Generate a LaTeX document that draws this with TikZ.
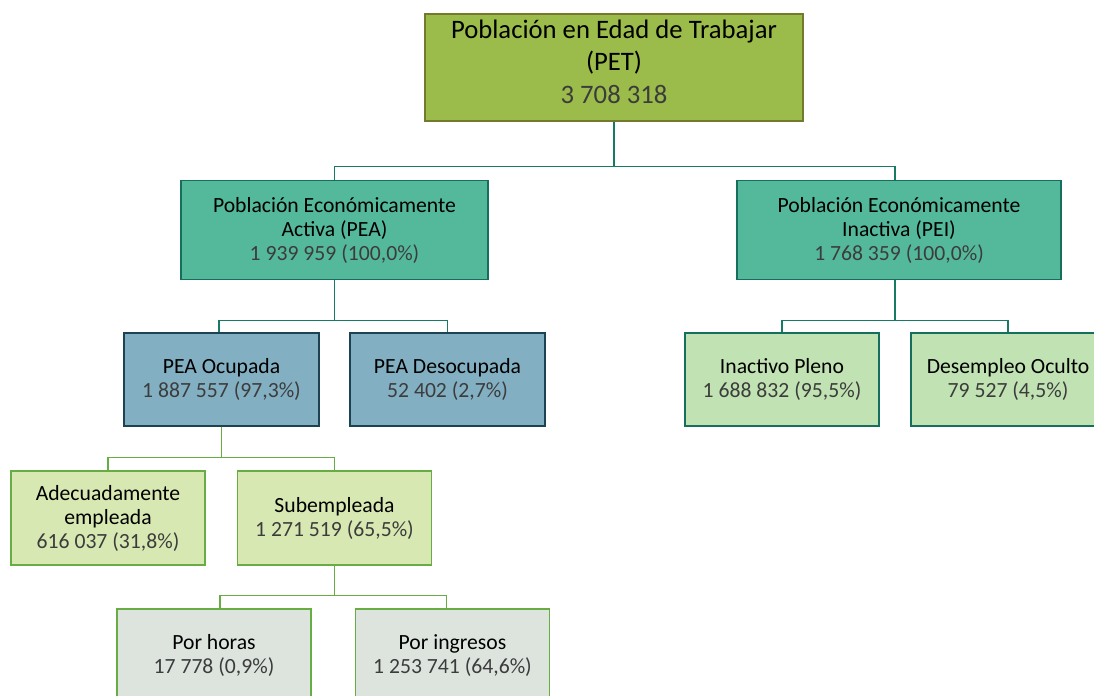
\documentclass[tikz,border=0pt]{standalone}
\usepackage{fontspec}
\setmainfont{Carlito}
\tikzset{
  box/.style={
    draw,
    line width=1.1pt,
    align=center,
    inner sep=0pt,
    text=black,
    font=\fontsize{16.25}{18}\selectfont
  },
  box-pet/.style={box, fill=petgreen, draw=petborder,
    minimum width=283.5pt, minimum height=80.25pt,
    text depth=9pt,
    font=\fontsize{20}{24.5}\selectfont},
  box-pea/.style={box, fill=peateal, draw=peaborder,
    minimum height=74.25pt},
  box-blue/.style={box, fill=ocublue, draw=ocuborder,
    minimum width=146.25pt, minimum height=69.75pt},
  box-inact/.style={box, fill=inactgreen, draw=peaborder,
    minimum width=145.5pt, minimum height=69.75pt},
  box-light/.style={box, fill=lightgreen, draw=linegreen,
    minimum width=145.5pt, minimum height=70.5pt},
  box-grey/.style={box, fill=lightgrey, draw=linegreen,
    minimum width=145.5pt, minimum height=69.75pt},
  link-teal/.style={draw=linkteal, line width=1.1pt},
  link-green/.style={draw=linegreen, line width=1.1pt}
}
\definecolor{petgreen}{RGB}{155,187,74}
\definecolor{petborder}{RGB}{115,122,45}
\definecolor{peateal}{RGB}{84,185,155}
\definecolor{peaborder}{RGB}{22,110,92}
\definecolor{ocublue}{RGB}{130,176,194}
\definecolor{ocuborder}{RGB}{28,66,84}
\definecolor{inactgreen}{RGB}{193,226,178}
\definecolor{lightgreen}{RGB}{216,232,178}
\definecolor{lightgrey}{RGB}{221,228,222}
\definecolor{linegreen}{RGB}{104,172,68}
\definecolor{linkteal}{RGB}{22,122,100}
\definecolor{numgray}{RGB}{60,60,60}
\newcommand{\cifra}[1]{{\color{numgray}#1}}

\begin{document}
\begin{tikzpicture}[x=0.75pt, y=-0.75pt]
  \useasboundingbox (0,0) rectangle (1094,695);
  % top
  \node[box-pet] (pet) at (614,67.5) {Población en Edad de Trabajar\\(PET)\\\cifra{3 708 318}};
  % active / inactive
  \node[box-pea, minimum width=230.25pt] (pea) at (334.5,230)
    {Población Económicamente\\Activa (PEA)\\\cifra{1 939 959 (100,0\%)}};
  \node[box-pea, minimum width=243pt] (pei) at (899,230)
    {Población Económicamente\\Inactiva (PEI)\\\cifra{1 768 359 (100,0\%)}};
  % second level
  \node[box-blue] (ocupada) at (221.5,379.5) {PEA Ocupada\\\cifra{1 887 557 (97,3\%)}};
  \node[box-blue] (desocupada) at (447.5,379.5) {PEA Desocupada\\\cifra{52 402 (2,7\%)}};
  \node[box-inact] (inactivo) at (782,379.5) {Inactivo Pleno\\\cifra{1 688 832 (95,5\%)}};
  \node[box-inact] (oculto) at (1008,379.5) {Desempleo Oculto\\\cifra{79 527 (4,5\%)}};
  % employed
  \node[box-light] (adecuada) at (108,518) {Adecuadamente\\empleada\\\cifra{616 037 (31,8\%)}};
  \node[box-light] (subempleada) at (334.5,518) {Subempleada\\\cifra{1 271 519 (65,5\%)}};
  % underemployed
  \node[box-grey] (horas) at (214,655.5) {Por horas\\\cifra{17 778 (0,9\%)}};
  \node[box-grey] (ingresos) at (452.5,655.5) {Por ingresos\\\cifra{1 253 741 (64,6\%)}};
  % connectors
  \draw[link-teal] (pet.south) -- ++(0,45) -| (pea.north);
  \draw[link-teal] (pet.south) -- ++(0,45) -| ([xshift=-3pt]pei.north);
  \draw[link-teal] (pea.south) -- ++(0,40) -| ([xshift=-2pt]ocupada.north);
  \draw[link-teal] (pea.south) -- ++(0,40) -| (desocupada.north);
  \draw[link-teal] ([xshift=-3pt]pei.south) -- ++(0,40) -| (inactivo.north);
  \draw[link-teal] ([xshift=-3pt]pei.south) -- ++(0,40) -| (oculto.north);
  \draw[link-green] (ocupada.south) -- ++(0,31) -| (adecuada.north);
  \draw[link-green] (ocupada.south) -- ++(0,31) -| (subempleada.north);
  \draw[link-green] (subempleada.south) -- ++(0,30) -| ([xshift=4.5pt]horas.north);
  \draw[link-green] (subempleada.south) -- ++(0,30) -| ([xshift=-4.5pt]ingresos.north);
\end{tikzpicture}
\end{document}
